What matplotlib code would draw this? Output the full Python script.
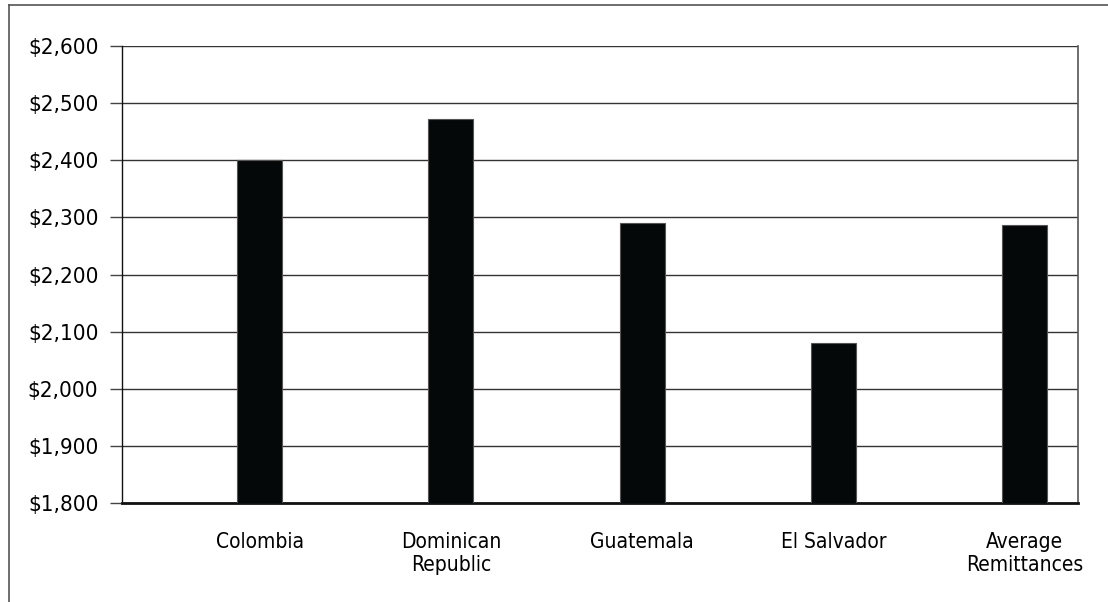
import matplotlib
matplotlib.use("Agg")
import matplotlib.pyplot as plt
from matplotlib.lines import Line2D
from matplotlib.ticker import FuncFormatter

categories = ["Colombia", "Dominican\nRepublic", "Guatemala", "El Salvador", "Average\nRemittances"]
values = [2400, 2472, 2290, 2080, 2287]
yticks = [1800, 1900, 2000, 2100, 2200, 2300, 2400, 2500, 2600]

plt.rcParams['font.family'] = ['DejaVu Sans']
plt.rcParams['font.stretch'] = 'condensed'

fig = plt.figure(figsize=(11.08, 6.02), dpi=100)
ax = fig.add_axes([122/1108, 1-503/602, (1078-122)/1108, (503-46)/602])

x = list(range(len(categories)))
ax.bar(x, values, width=0.236, color='#050808', edgecolor='#555555', linewidth=0.8, zorder=3)

ax.set_ylim(1800, 2600)
ax.set_xlim(-0.72, 4.28)
ax.set_yticks(yticks)
ax.yaxis.set_major_formatter(FuncFormatter(lambda v, p: f"${int(v):,}"))
ax.set_xticks(x)
ax.set_xticklabels(categories, fontsize=15, linespacing=1.2, fontstretch='condensed')
for t in ax.get_yticklabels():
    t.set_fontstretch('condensed')
ax.tick_params(axis='x', length=0, pad=21)
ax.tick_params(axis='y', length=9, width=1, color='#444444', pad=8, labelsize=16)
ax.yaxis.grid(True, color='#333333', linewidth=1, zorder=0)
ax.set_axisbelow(True)

ax.spines['top'].set_visible(False)
ax.spines['left'].set_color('#111111')
ax.spines['left'].set_linewidth(1)
ax.spines['right'].set_color('#555555')
ax.spines['right'].set_linewidth(1.2)
ax.spines['bottom'].set_color('#111111')
ax.spines['bottom'].set_linewidth(2)

fig.add_artist(Line2D([9/1108, 1.0], [1-5/602, 1-5/602], transform=fig.transFigure, color='#555555', linewidth=1.2))
fig.add_artist(Line2D([9/1108, 9/1108], [0.0, 1-5/602], transform=fig.transFigure, color='#555555', linewidth=1.2))

fig.savefig("out.png", dpi=100)
